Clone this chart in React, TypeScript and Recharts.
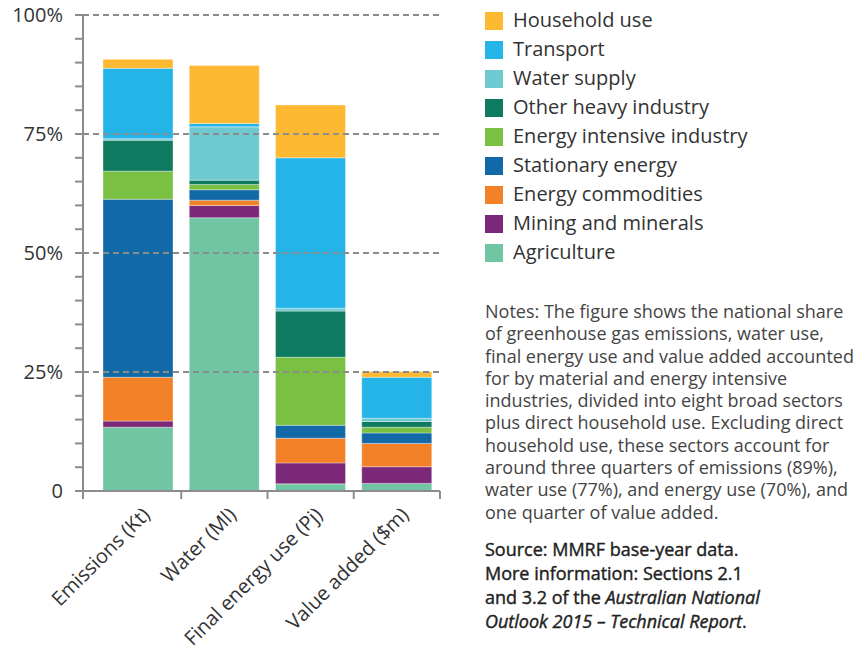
import React from "react";
import { BarChart, Bar, XAxis, YAxis, ReferenceLine } from "recharts";

const categories = ["Emissions (Kt)", "Water (Ml)", "Final energy use (Pj)", "Value added ($m)"];

const agriculture = [13.4, 57.4, 1.5, 1.6];
const mining = [1.3, 2.6, 4.4, 3.5];
const energyCommodities = [9.2, 1.1, 5.2, 4.9];
const stationaryEnergy = [37.4, 2.2, 2.7, 2.2];
const energyIntensive = [5.9, 1.1, 14.3, 1.2];
const otherHeavy = [6.5, 0.9, 9.7, 1.2];
const waterSupply = [0.3, 11.2, 0.6, 0.7];
const transport = [14.8, 0.7, 31.6, 8.6];
const household = [1.9, 12.2, 11.1, 1.2];

const yTicks = [0, 5, 10, 15, 20, 25, 30, 35, 40, 45, 50, 55, 60, 65, 70, 75, 80, 85, 90, 95, 100];
const gridValues = [25, 50, 75, 100];

const series = [
  { key: "agriculture", name: "Agriculture", color: "#70C5A2", values: agriculture },
  { key: "mining", name: "Mining and minerals", color: "#7B2878", values: mining },
  { key: "energyCommodities", name: "Energy commodities", color: "#F28127", values: energyCommodities },
  { key: "stationaryEnergy", name: "Stationary energy", color: "#1169A8", values: stationaryEnergy },
  { key: "energyIntensive", name: "Energy intensive industry", color: "#7AC043", values: energyIntensive },
  { key: "otherHeavy", name: "Other heavy industry", color: "#0E7A5F", values: otherHeavy },
  { key: "waterSupply", name: "Water supply", color: "#6FC9D1", values: waterSupply },
  { key: "transport", name: "Transport", color: "#25B4E8", values: transport },
  { key: "household", name: "Household use", color: "#FDB931", values: household },
];

const notesLines = [
  "Notes: The figure shows the national share",
  "of greenhouse gas emissions, water use,",
  "final energy use and value added accounted",
  "for by material and energy intensive",
  "industries, divided into eight broad sectors",
  "plus direct household use. Excluding direct",
  "household use, these sectors account for",
  "around three quarters of emissions (89%),",
  "water use (77%), and energy use (70%), and",
  "one quarter of value added.",
];

const data = categories.map((c, i) => {
  const row: any = { name: c };
  series.forEach((s) => (row[s.key] = s.values[i]));
  return row;
});

const FONT = "'Open Sans', 'Noto Sans', sans-serif";
const AXIS = "#8c8c8c";
const TEXT = "#333333";

const CH_W = 460;
const CH_H = 654;
const X_H = 30;
const MARGIN = { top: 15, right: 20, left: 0, bottom: 163 - X_H };
const Y_W = 83;
const PAD_L = 12;
const BAND = (CH_W - MARGIN.right - Y_W - PAD_L) / categories.length;
const Y_TICK = 8;
const Y_MARGIN = 12;

const YTick = (props: any) => {
  const { x, y, payload } = props;
  const v = payload.value;
  const x0 = x + Y_MARGIN;
  return (
    <g>
      <line x1={x0} y1={y} x2={x0 + Y_TICK} y2={y} stroke={AXIS} strokeWidth={2} />
      {v % 25 === 0 && (
        <text x={x} y={y} dy="0.36em" textAnchor="end" fontSize={20} fontFamily={FONT} fill={TEXT}>
          {v === 0 ? "0" : `${v}%`}
        </text>
      )}
    </g>
  );
};

const XTick = (props: any) => {
  const { x, y, payload, index } = props;
  const right = x + BAND / 2;
  const left = x - BAND / 2 - PAD_L;
  const ax = x + 13;
  const ay = y + 25;
  return (
    <g>
      <line x1={right} y1={y} x2={right} y2={y + 8} stroke={AXIS} strokeWidth={2} />
      {index === 0 && <line x1={left} y1={y} x2={left} y2={y + 8} stroke={AXIS} strokeWidth={2} />}
      <text x={ax} y={ay} textAnchor="end" fontSize={20} fontFamily={FONT} fill={TEXT} transform={`rotate(-45, ${ax}, ${ay})`}>
        {payload.value}
      </text>
    </g>
  );
};

const legendItems = [...series].reverse();

export default function App() {
  return (
    <div style={{ position: "absolute", left: 0, top: 0, width: 865, height: 654, background: "#fff", fontFamily: FONT }}>
      <div style={{ position: "absolute", left: 0, top: 0 }}>
        <BarChart width={CH_W} height={CH_H} data={data} margin={MARGIN} barSize={70}>
          {gridValues.map((v) => (
            <ReferenceLine key={v} y={v} stroke={AXIS} strokeWidth={2} strokeDasharray="6 4" />
          ))}
          <XAxis
            dataKey="name"
            height={X_H}
            interval={0}
            padding={{ left: PAD_L, right: 0 }}
            axisLine={{ stroke: AXIS, strokeWidth: 2 }}
            tickLine={false}
            tickSize={0}
            tickMargin={0}
            tick={<XTick />}
          />
          <YAxis
            width={Y_W}
            domain={[0, 100]}
            ticks={yTicks}
            interval={0}
            axisLine={{ stroke: AXIS, strokeWidth: 2 }}
            tickLine={false}
            tickSize={Y_TICK}
            tickMargin={Y_MARGIN}
            tick={<YTick />}
          />
          {series.map((s) => (
            <Bar
              key={s.key}
              dataKey={s.key}
              stackId="a"
              fill={s.color}
              stroke="#ffffff"
              strokeOpacity={0.35}
              strokeWidth={1}
              isAnimationActive={false}
            />
          ))}
        </BarChart>
      </div>

      <div style={{ position: "absolute", left: 485, top: 5 }}>
        {legendItems.map((s) => (
          <div key={s.key} style={{ position: "relative", height: 29, lineHeight: "29px", fontSize: 20, color: TEXT, whiteSpace: "nowrap" }}>
            <span style={{ position: "absolute", left: 0, top: 7, width: 18, height: 18, background: s.color }} />
            <span style={{ position: "absolute", left: 28, top: 0 }}>{s.name}</span>
          </div>
        ))}
      </div>

      <div style={{ position: "absolute", left: 485, top: 300, fontSize: 18, lineHeight: "22.3px", color: "#444", whiteSpace: "nowrap" }}>
        {notesLines.map((l, i) => (
          <div key={i}>{l}</div>
        ))}
      </div>

      <div
        style={{
          position: "absolute",
          left: 485,
          top: 537,
          fontSize: 18,
          lineHeight: "24px",
          color: "#222",
          fontWeight: 400,
          WebkitTextStroke: "0.4px #222",
          whiteSpace: "nowrap",
        }}
      >
        <div>Source: MMRF base-year data.</div>
        <div>More information: Sections 2.1</div>
        <div>
          and 3.2 of the <i>Australian National</i>
        </div>
        <div>
          <i>Outlook 2015 – Technical Report</i>.
        </div>
      </div>
    </div>
  );
}
